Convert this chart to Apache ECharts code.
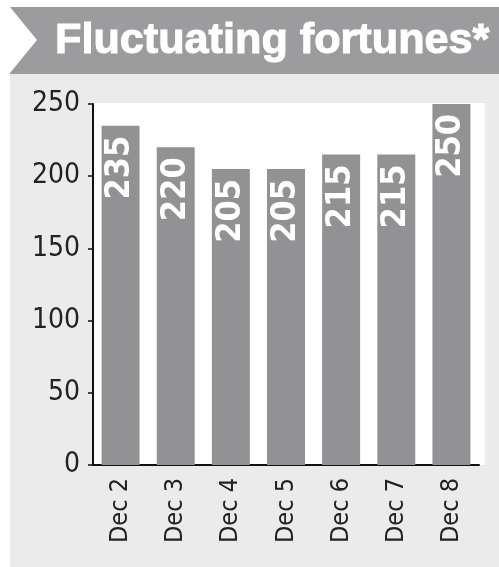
<!DOCTYPE html>
<html><head><meta charset="utf-8">
<script src="https://cdn.jsdelivr.net/npm/echarts@6/dist/echarts.min.js"></script>
<style>html,body{margin:0;padding:0;background:#fff;}#c{width:499px;height:567px;}</style>
</head><body><div id="c"></div>
<script>
const titleText = 'Fluctuating fortunes*';
const categories = ['Dec 2','Dec 3','Dec 4','Dec 5','Dec 6','Dec 7','Dec 8'];
const values = [235, 220, 205, 205, 215, 215, 250];
const yTicks = [0, 50, 100, 150, 200, 250];

const FONT = '"DejaVu Sans Condensed", "Liberation Sans", sans-serif';
const chart = echarts.init(document.getElementById('c'), null, {renderer:'canvas'});
chart.setOption({
  backgroundColor: '#fff',
  animation: false,
  graphic: [
    {type:'rect', z:-10, shape:{x:10,y:7,width:489,height:560}, style:{fill:'#ebebeb'}},
    {type:'rect', z:-9, shape:{x:10,y:7,width:489,height:67}, style:{fill:'#9c9c9e'}},
    {type:'polygon', z:-8, shape:{points:[[10,7],[37,40],[10,73]]}, style:{fill:'#ffffff'}},
    {type:'rect', z:-8, shape:{x:92,y:103,width:393,height:362}, style:{fill:'#ffffff'}},
    {type:'text', z:5, x:55, y:41, scaleX:1.08, scaleY:1.05, style:{text:titleText, fill:'#fff', font:'bold 40px "Liberation Sans"', verticalAlign:'middle', align:'left', stroke:'#fff', lineWidth:1}}
  ],
  grid: {left:93, right:20, top:104, bottom:102},
  xAxis: {
    type:'category', data: categories,
    axisLine:{lineStyle:{color:'#111', width:2}},
    axisTick:{inside:true, length:7, lineStyle:{color:'#111', width:1.5}},
    axisLabel:{rotate:90, margin:13, color:'#222', fontFamily:FONT, fontSize:25}
  },
  yAxis: {
    type:'value', min:0, max:250, interval:50,
    splitLine:{show:false},
    axisLine:{show:true, lineStyle:{color:'#111', width:2}},
    axisTick:{show:true, length:5, lineStyle:{color:'#111', width:1.5}},
    axisLabel:{margin:13, color:'#222', fontFamily:FONT, fontSize:28,
      formatter: v => yTicks.includes(v) ? String(v) : ''}
  },
  series: [{
    type:'bar', data: values, barWidth: 38,
    itemStyle:{color:'#929294'},
    label:{show:true, position:'insideTop', rotate:90, align:'right', verticalAlign:'middle', distance:10,
      color:'#fff', fontFamily:FONT, fontWeight:'bold', fontSize:34}
  }]
});
</script></body></html>
